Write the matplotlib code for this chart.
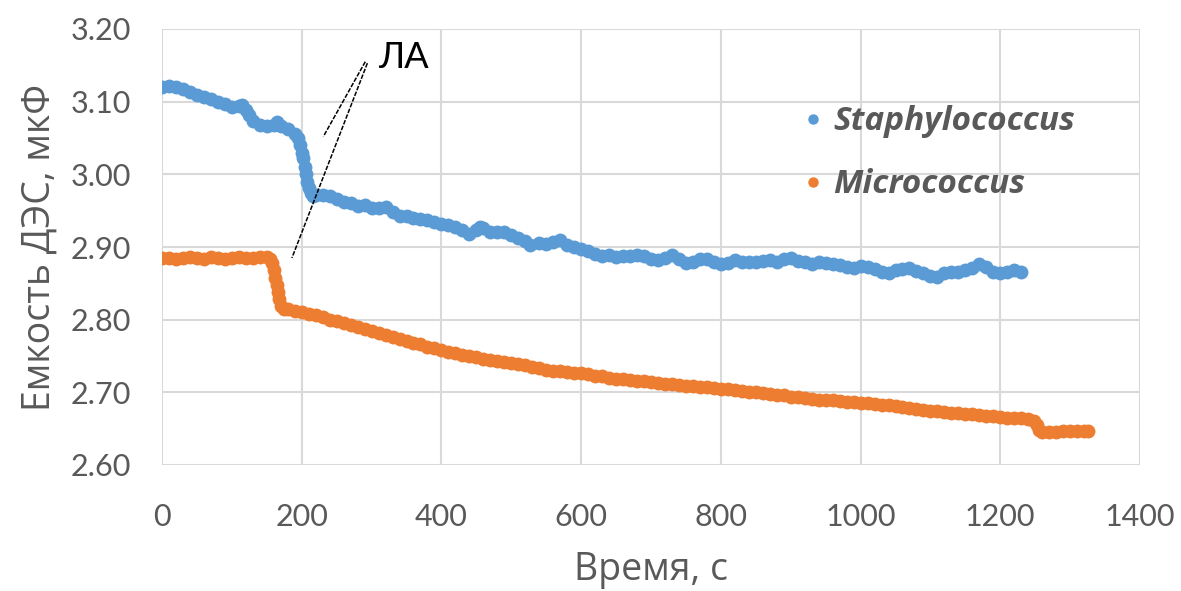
import matplotlib
matplotlib.use("Agg")
import matplotlib.pyplot as plt
from matplotlib.ticker import FormatStrFormatter, MultipleLocator

# Time (s) and double-layer capacitance (uF) for each culture
t_staph = [0, 10, 20, 30, 40, 50, 60, 70, 80, 90, 100, 110, 115, 120, 125, 130, 140, 150, 160,
           165, 170, 180, 190, 195, 198, 200, 202, 204, 206, 208, 210, 213, 216, 220, 230, 240,
           250, 260, 270, 280, 290, 300, 310, 320, 330, 340, 350, 360, 370, 380, 390, 400, 410,
           420, 430, 440, 450, 455, 460, 470, 480, 490, 500, 510, 520, 527, 540, 550, 560, 570,
           580, 590, 600, 610, 620, 630, 640, 650, 660, 670, 680, 690, 700, 710, 720, 730, 740,
           750, 760, 770, 780, 790, 800, 810, 820, 830, 840, 850, 860, 870, 880, 890, 900, 910,
           920, 930, 940, 950, 960, 970, 980, 990, 1000, 1010, 1020, 1030, 1040, 1050, 1060,
           1070, 1080, 1090, 1100, 1110, 1120, 1130, 1140, 1150, 1160, 1170, 1180, 1190, 1200,
           1210, 1220, 1230]
c_staph = [3.120, 3.121, 3.120, 3.117, 3.113, 3.109, 3.106, 3.103, 3.100, 3.097, 3.093, 3.094,
           3.095, 3.088, 3.081, 3.074, 3.068, 3.067, 3.068, 3.072, 3.066, 3.062, 3.055, 3.050,
           3.040, 3.030, 3.022, 3.010, 3.000, 2.990, 2.981, 2.974, 2.970, 2.971, 2.972, 2.970,
           2.966, 2.962, 2.960, 2.957, 2.958, 2.954, 2.953, 2.955, 2.948, 2.943, 2.943, 2.940,
           2.939, 2.937, 2.934, 2.931, 2.930, 2.927, 2.924, 2.918, 2.924, 2.928, 2.926, 2.921,
           2.920, 2.921, 2.917, 2.913, 2.908, 2.903, 2.905, 2.904, 2.907, 2.909, 2.903, 2.900,
           2.897, 2.894, 2.890, 2.888, 2.889, 2.886, 2.887, 2.888, 2.889, 2.887, 2.884, 2.882,
           2.885, 2.889, 2.883, 2.878, 2.879, 2.884, 2.883, 2.879, 2.876, 2.878, 2.882, 2.880,
           2.879, 2.880, 2.881, 2.882, 2.880, 2.883, 2.885, 2.881, 2.879, 2.877, 2.879, 2.878,
           2.876, 2.875, 2.872, 2.871, 2.874, 2.873, 2.870, 2.866, 2.864, 2.868, 2.870, 2.871,
           2.867, 2.864, 2.860, 2.859, 2.864, 2.866, 2.865, 2.868, 2.871, 2.877, 2.872, 2.866,
           2.864, 2.866, 2.868, 2.865]

t_micro = [0, 10, 20, 30, 40, 50, 60, 70, 80, 90, 100, 110,
           120, 130, 140, 150, 155, 158, 160, 162, 164, 166, 168, 170,
           175, 180, 190, 200, 210, 220, 230, 240, 250, 260, 270, 280,
           290, 300, 310, 320, 330, 340, 350, 360, 370, 380, 390, 400,
           410, 420, 430, 440, 450, 460, 470, 480, 490, 500, 510, 520,
           530, 540, 550, 560, 570, 580, 590, 600, 610, 620, 630, 640,
           650, 660, 670, 680, 690, 700, 710, 720, 730, 740, 750, 760,
           770, 780, 790, 800, 810, 820, 830, 840, 850, 860, 870, 880,
           890, 900, 910, 920, 930, 940, 950, 960, 970, 980, 990, 1000,
           1010, 1020, 1030, 1040, 1050, 1060, 1070, 1080, 1090, 1100, 1110, 1120,
           1130, 1140, 1150, 1160, 1170, 1180, 1190, 1200, 1210, 1220, 1230, 1240,
           1248, 1252, 1256, 1260, 1270, 1280, 1290, 1300, 1310, 1320, 1326]
c_micro = [2.885, 2.885, 2.884, 2.885, 2.886, 2.885, 2.884, 2.886, 2.885, 2.884, 2.885, 2.886,
           2.885, 2.885, 2.886, 2.886, 2.884, 2.878, 2.868, 2.858, 2.848, 2.838, 2.828, 2.819,
           2.815, 2.814, 2.812, 2.811, 2.808, 2.806, 2.803, 2.800, 2.798, 2.795, 2.792, 2.790,
           2.787, 2.784, 2.781, 2.779, 2.776, 2.773, 2.771, 2.768, 2.766, 2.763, 2.761, 2.758,
           2.756, 2.754, 2.752, 2.750, 2.748, 2.746, 2.745, 2.743, 2.742, 2.740, 2.739, 2.737,
           2.735, 2.733, 2.731, 2.730, 2.729, 2.728, 2.727, 2.726, 2.725, 2.723, 2.722, 2.720,
           2.719, 2.718, 2.717, 2.716, 2.715, 2.714, 2.713, 2.712, 2.711, 2.710, 2.709, 2.709,
           2.708, 2.707, 2.706, 2.705, 2.704, 2.703, 2.702, 2.701, 2.700, 2.699, 2.698, 2.697,
           2.696, 2.694, 2.693, 2.692, 2.691, 2.690, 2.690, 2.689, 2.688, 2.687, 2.687, 2.686,
           2.685, 2.684, 2.683, 2.682, 2.681, 2.680, 2.679, 2.677, 2.676, 2.675, 2.674, 2.673,
           2.672, 2.671, 2.670, 2.670, 2.669, 2.668, 2.667, 2.666, 2.665, 2.665, 2.664, 2.663,
           2.661, 2.655, 2.648, 2.646, 2.646, 2.646, 2.647, 2.647, 2.647, 2.647, 2.647]

series_names = ["Staphylococcus", "Micrococcus"]
series_colors = ["#5B9BD5", "#ED7D31"]

x_ticks = [0, 200, 400, 600, 800, 1000, 1200, 1400]

plt.rcParams["font.family"] = ["Lato", "DejaVu Sans"]
text_gray = "#595959"
grid_gray = "#D9D9D9"
wide_font = ["Open Sans", "DejaVu Sans"]

fig = plt.figure(figsize=(11.81, 5.91), dpi=100)
ax = fig.add_axes([162 / 1181, 1 - 465 / 591, (1140 - 162) / 1181, (465 - 29) / 591])

for t, c, name, col in zip([t_staph, t_micro], [c_staph, c_micro], series_names, series_colors):
    ax.plot(t, c, linestyle="none", marker="o", markersize=10.0, color=col,
            markeredgewidth=0, label=name, zorder=3)

ax.set_xlim(0, 1400)
ax.set_ylim(2.60, 3.20)
ax.set_xticks(x_ticks)
ax.yaxis.set_major_locator(MultipleLocator(0.1))
ax.yaxis.set_major_formatter(FormatStrFormatter("%.2f"))
ax.grid(True, color=grid_gray, linewidth=1.5, zorder=0)
ax.set_axisbelow(True)
for s in ax.spines.values():
    s.set_visible(False)
ax.tick_params(length=0, labelsize=22, labelcolor=text_gray)
ax.tick_params(axis="x", pad=27)
ax.tick_params(axis="y", pad=22)

ax.set_xlabel("Время, с", fontsize=27, color=text_gray, labelpad=15, family=wide_font)
ax.set_ylabel("Емкость ДЭС, мкФ", fontsize=27, color=text_gray, labelpad=9, family=wide_font)

# Callout marking the moment the agent was added
ax.text(345, 3.161, "ЛА", fontsize=26, color="black", ha="center", va="center")
ax.plot([291, 231], [3.155, 3.052], color="black", linewidth=1.1, linestyle=(0, (3, 1)), zorder=4)
ax.plot([294, 186], [3.153, 2.885], color="black", linewidth=1.1, linestyle=(0, (3, 1)), zorder=4)

leg = ax.legend(loc="upper left", bbox_to_anchor=((785 - 162) / 978, (465 - 92) / 436),
                frameon=False, handletextpad=0.15, handlelength=0.9, markerscale=0.75,
                labelspacing=0.9, borderaxespad=0,
                prop={"family": wide_font, "size": 24, "weight": "bold", "style": "italic"})
for txt in leg.get_texts():
    txt.set_color(text_gray)

fig.savefig("out.png", dpi=100, facecolor="white")
